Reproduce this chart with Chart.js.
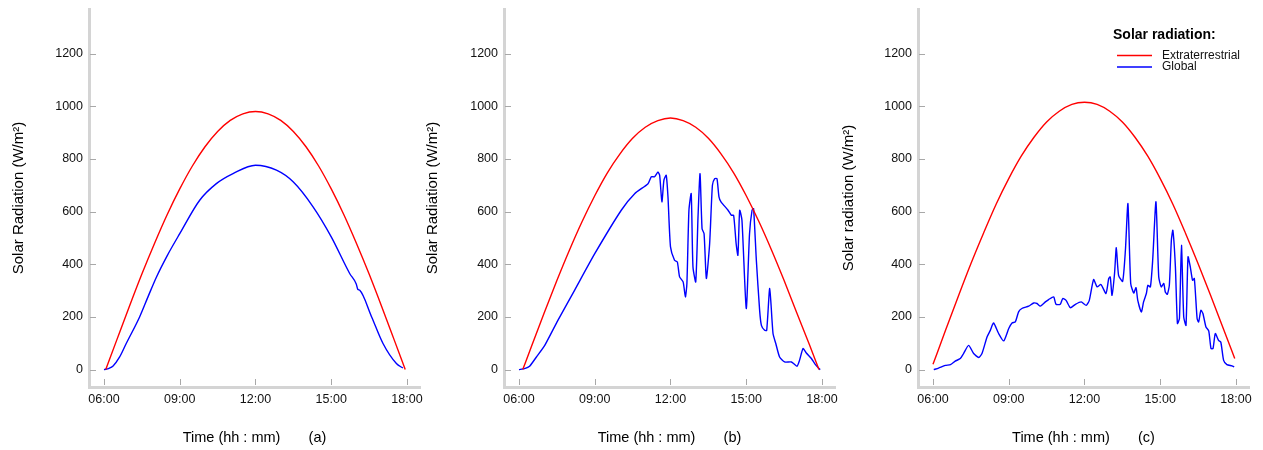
<!DOCTYPE html>
<html>
<head>
<meta charset="utf-8">
<script src="https://cdn.jsdelivr.net/npm/chart.js@4.4.0/dist/chart.umd.min.js"></script>
<style>
  body { margin: 0; background: #fff; }
  canvas { position: absolute; top: 0; }
</style>
</head>
<body>
<canvas id="chartA" width="441" height="450" style="left:0"></canvas>
<canvas id="chartB" width="441" height="450" style="left:421px"></canvas>
<canvas id="chartC" width="421" height="450" style="left:842px"></canvas>
<script>
// axes
const xTicks = [6, 9, 12, 15, 18];
const xTickLabels = ['06:00', '09:00', '12:00', '15:00', '18:00'];
const yTicks = [0, 200, 400, 600, 800, 1000, 1200];
const legendTitle = 'Solar radiation:';

// (a) clear day
const extraTimeA = [6.07, 6.5, 7, 7.5, 8, 8.5, 9, 9.5, 10, 10.5, 11, 11.5, 12,
  12.5, 13, 13.5, 14, 14.5, 15, 15.5, 16, 16.5, 17, 17.5, 17.93];
const extraA = [0, 111, 239, 363, 479, 588, 686, 773, 846, 904, 946, 971, 980,
  971, 946, 904, 846, 773, 686, 588, 479, 363, 239, 111, 0];
const globalTimeA = [6.0, 6.2, 6.36, 6.62, 6.88, 7.41, 7.75, 8.07, 8.5, 9.0, 9.79, 10.45, 11.11, 12.0,
  12.83, 13.49, 14.28, 15.0, 15.73, 15.99, 16.05, 16.13, 16.6, 17.05, 17.58, 17.84];
const globalA = [0, 5, 14, 48, 99, 200, 278, 350, 432, 516, 643, 706, 744, 776,
  757, 713, 618, 504, 365, 325, 305, 301, 200, 99, 23, 6];

// (b) partly cloudy afternoon
const extraTimeB = [6.15, 6.5, 7, 7.5, 8, 8.5, 9, 9.5, 10, 10.5, 11, 11.5, 12,
  12.5, 13, 13.5, 14, 14.5, 15, 15.5, 16, 16.5, 17, 17.5, 17.88];
const extraB = [0, 90, 216, 338, 454, 562, 660, 747, 819, 878, 920, 945, 955,
  945, 920, 878, 819, 747, 660, 562, 454, 338, 216, 95, 0];
const globalTimeB = [6.0, 6.22, 6.42, 6.69, 7.02, 7.54, 8.2, 9.0, 10.05, 10.58, 11.11, 11.24,
  11.37, 11.5, 11.57, 11.66, 11.74, 11.83, 11.9, 12.0, 12.16, 12.27, 12.36, 12.5, 12.59,
  12.65, 12.73, 12.82, 12.89, 13.0, 13.09, 13.17, 13.25, 13.33, 13.42, 13.55, 13.66, 13.75,
  13.84, 13.92, 14.0, 14.28, 14.41, 14.5, 14.6, 14.67, 14.74, 14.83, 15.0, 15.13, 15.23,
  15.29, 15.4, 15.53, 15.6, 15.73, 15.81, 15.93, 16.06, 16.17, 16.32, 16.52, 16.79, 17.01,
  17.11, 17.25, 17.38, 17.58, 17.71, 17.88, 17.93];
const globalB = [0, 4, 13, 48, 92, 187, 301, 440, 605, 668, 706, 732,
  732, 750, 738, 637, 719, 738, 656, 466, 415, 409, 352, 333, 276,
  327, 605, 668, 390, 333, 580, 744, 535, 516, 346, 478, 700, 725,
  725, 656, 637, 605, 586, 586, 478, 434, 605, 567, 232, 516, 605,
  611, 415, 225, 168, 149, 149, 308, 137, 99, 48, 29, 29, 13,
  35, 80, 63, 42, 23, 4, 0];

// (c) cloudy day
const extraTimeC = [6.0, 6.5, 7, 7.5, 8, 8.5, 9, 9.5, 10, 10.5, 11, 11.5, 12,
  12.5, 13, 13.5, 14, 14.5, 15, 15.5, 16, 16.5, 17, 17.5, 17.95];
const extraC = [20, 150, 278, 402, 518, 628, 725, 811, 882, 940, 981, 1007, 1015,
  1007, 981, 940, 882, 811, 725, 628, 518, 402, 280, 155, 42];
const globalTimeC = [6.03, 6.22, 6.49, 6.69, 6.88, 7.08, 7.21, 7.41, 7.61, 7.81, 7.94, 8.14,
  8.27, 8.4, 8.6, 8.8, 9.0, 9.13, 9.26, 9.39, 9.52, 9.79, 9.99, 10.12, 10.25, 10.45, 10.58,
  10.78, 10.87, 11.04, 11.14, 11.27, 11.44, 11.64, 11.87, 12.07, 12.19, 12.36, 12.5, 12.65,
  12.85, 12.96, 13.02, 13.09, 13.19, 13.26, 13.35, 13.51, 13.62, 13.72, 13.83, 13.95, 14.04,
  14.11, 14.25, 14.34, 14.45, 14.51, 14.61, 14.7, 14.83, 14.94, 15.04, 15.14, 15.2, 15.28,
  15.36, 15.44, 15.5, 15.6, 15.68, 15.76, 15.84, 15.93, 16.02, 16.1, 16.19, 16.28, 16.35,
  16.46, 16.52, 16.61, 16.69, 16.81, 16.92, 17.01, 17.09, 17.18, 17.31, 17.4, 17.51, 17.64,
  17.84, 17.93];
const globalC = [0, 6, 16, 19, 32, 42, 61, 92, 61, 46, 61, 124,
  149, 177, 137, 109, 156, 177, 181, 219, 232, 241, 253, 251, 241, 257, 266,
  276, 248, 248, 270, 263, 235, 248, 257, 244, 263, 342, 314, 323,
  289, 346, 352, 282, 365, 463, 358, 335, 453, 630, 327, 291, 311,
  263, 219, 257, 289, 320, 314, 415, 637, 352, 314, 327, 295, 286,
  320, 491, 529, 390, 175, 194, 472, 200, 168, 428, 390, 339, 346,
  194, 181, 225, 213, 162, 147, 80, 80, 137, 111, 104, 35, 19,
  14, 10];

Chart.defaults.font.family = '"Liberation Sans", Arial, sans-serif';
Chart.defaults.color = '#111';

function pairs(xs, ys) {
  return xs.map((x, i) => ({ x: x, y: ys[i] }));
}

// tick marks pointing into the plot, as in the original
const innerTicks = {
  id: 'innerTicks',
  afterDatasetsDraw(chart) {
    const { ctx, chartArea, scales: { x, y } } = chart;
    ctx.save();
    ctx.strokeStyle = '#a8a8a8';
    ctx.lineWidth = 1;
    ctx.beginPath();
    x.ticks.forEach(t => {
      const px = Math.round(x.getPixelForValue(t.value)) + 0.5;
      ctx.moveTo(px, chartArea.bottom - 2);
      ctx.lineTo(px, chartArea.bottom - 8);
    });
    y.ticks.forEach(t => {
      const py = Math.round(y.getPixelForValue(t.value)) + 0.5;
      ctx.moveTo(chartArea.left + 1, py);
      ctx.lineTo(chartArea.left + 7, py);
    });
    ctx.stroke();
    ctx.restore();
  }
};

const legendBox = {
  id: 'legendBox',
  afterDraw(chart, args, opts) {
    if (!opts.show) return;
    const ctx = chart.ctx;
    ctx.save();
    ctx.textBaseline = 'middle';
    ctx.fillStyle = '#000';
    ctx.font = 'bold 14px "Liberation Sans", Arial, sans-serif';
    ctx.fillText(legendTitle, opts.x, opts.y);
    ctx.font = '12px "Liberation Sans", Arial, sans-serif';
    chart.data.datasets.forEach((ds, i) => {
      const ly = opts.y + 20.5 + i * 11.5;
      ctx.strokeStyle = ds.borderColor;
      ctx.lineWidth = 1.5;
      ctx.beginPath();
      ctx.moveTo(opts.x + 4, ly);
      ctx.lineTo(opts.x + 39, ly);
      ctx.stroke();
      ctx.fillStyle = '#111';
      ctx.fillText(ds.label, opts.x + 49, ly);
    });
    ctx.restore();
  }
};

function makePanel(id, p) {
  const globalLine = {
    label: 'Global',
    data: pairs(p.globalTime, p.global),
    borderColor: '#0000ff',
    borderWidth: 1.4,
    pointRadius: 0,
    tension: 0.2
  };
  if (p.smoothGlobal) globalLine.cubicInterpolationMode = 'monotone';

  return new Chart(document.getElementById(id), {
    type: 'line',
    data: {
      datasets: [{
        label: 'Extraterrestrial',
        data: pairs(p.extraTime, p.extra),
        borderColor: '#ff0000',
        borderWidth: 1.4,
        pointRadius: 0,
        cubicInterpolationMode: 'monotone'
      }, globalLine]
    },
    options: {
      responsive: false,
      animation: false,
      devicePixelRatio: 1,
      layout: { padding: { top: 9, right: p.right, left: 0, bottom: 0 } },
      plugins: {
        legend: { display: false },
        tooltip: { enabled: false },
        legendBox: { show: !!p.legend, x: 271, y: 35 }
      },
      scales: {
        x: {
          type: 'linear',
          min: 5.406,
          max: 18.515,
          afterFit(s) {
            s.height = 63;
            s.paddingLeft = 0;
            s.paddingRight = 0;
          },
          afterBuildTicks(s) { s.ticks = xTicks.map(v => ({ value: v })); },
          ticks: {
            callback: (v, i) => xTickLabels[i],
            padding: 5,
            maxRotation: 0,
            autoSkip: false,
            font: { size: 12.5 }
          },
          grid: { drawOnChartArea: false, drawTicks: false },
          border: { color: '#d4d4d4', width: 3 },
          title: {
            display: true,
            text: 'Time (hh : mm)       ' + p.tag,
            font: { size: 14.5 },
            color: '#000',
            padding: { top: 0, bottom: 3 }
          }
        },
        y: {
          min: -66,
          max: 1369,
          afterFit(s) {
            s.width = p.yWidth;
            s.paddingTop = 0;
            s.paddingBottom = 0;
          },
          afterBuildTicks(s) { s.ticks = yTicks.map(v => ({ value: v })); },
          ticks: {
            callback: v => String(v),
            padding: 6,
            font: { size: 12.5 }
          },
          grid: { drawOnChartArea: false, drawTicks: false },
          border: { color: '#d4d4d4', width: 3 },
          title: {
            display: true,
            text: p.yTitle,
            font: { size: 15 },
            color: '#000',
            padding: { top: p.titlePad, bottom: 0 }
          }
        }
      }
    },
    plugins: [innerTicks, legendBox]
  });
}

// canvases a and b are 20px wider so their last tick label is not cut off
makePanel('chartA', {
  extraTime: extraTimeA, extra: extraA, globalTime: globalTimeA, global: globalA,
  tag: '(a)', yTitle: 'Solar Radiation (W/m²)', yWidth: 89, right: 21, titlePad: 10,
  smoothGlobal: true
});
makePanel('chartB', {
  extraTime: extraTimeB, extra: extraB, globalTime: globalTimeB, global: globalB,
  tag: '(b)', yTitle: 'Solar Radiation (W/m²)', yWidth: 83, right: 27, titlePad: 3
});
makePanel('chartC', {
  extraTime: extraTimeC, extra: extraC, globalTime: globalTimeC, global: globalC,
  tag: '(c)', yTitle: 'Solar radiation (W/m²)', yWidth: 76, right: 14, titlePad: -2,
  legend: true
});
</script>
</body>
</html>
